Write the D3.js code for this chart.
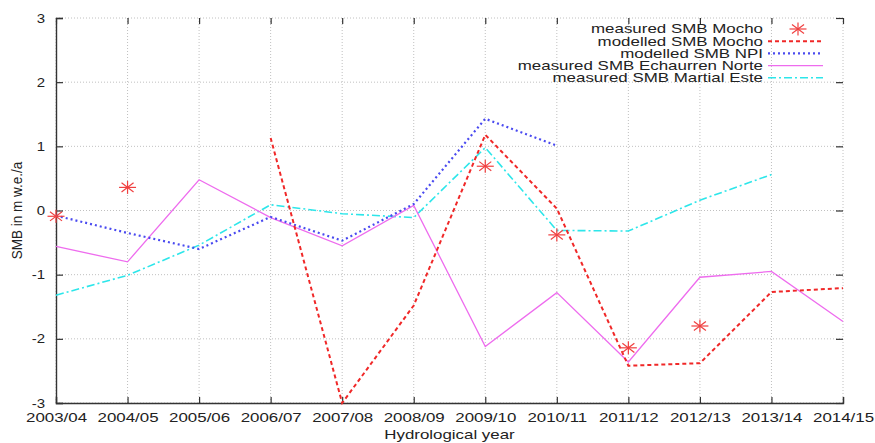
<!DOCTYPE html>
<html>
<head>
<meta charset="utf-8">
<script src="https://cdn.jsdelivr.net/npm/d3@7"></script>
<style>
  body { margin: 0; background: #fff; }
  text { font-family: "Liberation Sans", Arial, sans-serif; fill: #222; }
</style>
</head>
<body>
<div class="chart"></div>
<script>
// hydrological years (x categories)
const years = ["2003/04","2004/05","2005/06","2006/07","2007/08","2008/09",
               "2009/10","2010/11","2011/12","2012/13","2013/14","2014/15"];
const yTicks = [-3, -2, -1, 0, 1, 2, 3];

// series values, null = no value
const measuredMocho = [-0.09, 0.36, null, null, null, null, 0.69, -0.38, -2.14, -1.8, null, null];
const modelledMocho = [null, null, null, 1.13, -3.0, -1.48, 1.18, 0.03, -2.42, -2.38, -1.27, -1.21];
const modelledNPI   = [-0.08, -0.35, -0.6, -0.1, -0.47, 0.1, 1.43, 1.01, null, null, null, null];
const echaurren     = [-0.56, -0.8, 0.48, -0.11, -0.55, 0.08, -2.12, -1.28, -2.36, -1.04, -0.95, -1.73];
const martialEste   = [-1.32, -1.01, -0.54, 0.09, -0.05, -0.11, 0.98, -0.31, -0.32, 0.16, 0.56, null];

const showChart = () => {
  const width = 875, height = 443;
  const margin = { left: 56, right: 32, top: 18, bottom: 40 };
  const sx = 1.3; // text is drawn wide in the original

  const svg = d3.select(".chart").append("svg")
    .attr("width", width).attr("height", height);

  const x = d3.scalePoint().domain(years).range([margin.left, width - margin.right]);
  const y = d3.scaleLinear().domain([-3, 3]).range([height - margin.bottom, margin.top]);

  // grid
  const grid = svg.append("g");
  grid.selectAll(".gx").data(years).enter().append("line")
    .attr("x1", d => x(d)).attr("x2", d => x(d))
    .attr("y1", y(-3)).attr("y2", y(3))
    .attr("stroke", "#b0b0b0").attr("stroke-width", 0.8).attr("stroke-dasharray", "1,2");
  grid.selectAll(".gy").data(yTicks).enter().append("line")
    .attr("x1", x.range()[0]).attr("x2", x.range()[1])
    .attr("y1", d => y(d)).attr("y2", d => y(d))
    .attr("stroke", "#b0b0b0").attr("stroke-width", 0.8).attr("stroke-dasharray", "1,2");

  // axes, ticks pointing inward like gnuplot
  svg.append("g").attr("transform", `translate(0,${y(-3)})`)
    .call(d3.axisBottom(x).tickSize(-6).tickPadding(10))
    .call(g => g.selectAll("text").attr("font-size", 13).attr("fill", "#222")
      .attr("transform", `scale(${sx},1)`))
    .call(g => g.select(".domain").attr("stroke", "#333").attr("stroke-width", 1.4));
  svg.append("g").attr("transform", `translate(${x.range()[0]},0)`)
    .call(d3.axisLeft(y).tickValues(yTicks).tickFormat(d => String(d)).tickSize(-7))
    .call(g => g.selectAll("text").attr("font-size", 12.5).attr("fill", "#222")
      .attr("x", -11 / 1.2).attr("transform", "scale(1.2,1)"))
    .call(g => g.select(".domain").attr("stroke", "#333").attr("stroke-width", 1.4));
  // mirror ticks top / right
  svg.append("g").attr("transform", `translate(0,${y(3)})`)
    .call(d3.axisTop(x).tickSize(-6).tickFormat(""))
    .call(g => g.select(".domain").remove());
  svg.append("g").attr("transform", `translate(${x.range()[1]},0)`)
    .call(d3.axisRight(y).tickValues(yTicks).tickSize(-7).tickFormat(""))
    .call(g => g.select(".domain").remove());
  svg.selectAll(".tick line").attr("stroke", "#333").attr("stroke-width", 1.2);

  // axis titles
  svg.append("text")
    .attr("transform", `translate(${(x.range()[0] + x.range()[1]) / 2},439) scale(${sx},1)`)
    .attr("text-anchor", "middle").attr("font-size", 13).text("Hydrological year");
  svg.append("text").attr("transform", `translate(22,${y(0)}) rotate(-90) scale(1,1.15)`)
    .attr("text-anchor", "middle").attr("font-size", 13.5).text("SMB in m w.e./a");

  const series = [
    { name: "modelled SMB Mocho", values: modelledMocho, color: "#f02828", w: 2, dash: "4,3" },
    { name: "modelled SMB NPI", values: modelledNPI, color: "#4a4af0", w: 2.2, dash: "2,3" },
    { name: "measured SMB Echaurren Norte", values: echaurren, color: "#ee6cee", w: 1.3, dash: null },
    { name: "measured SMB Martial Este", values: martialEste, color: "#2de6ea", w: 1.6, dash: "8,3,2,3" }
  ];

  const line = d3.line()
    .defined(d => d != null)
    .x((d, i) => x(years[i]))
    .y(d => y(d));

  // draw in reverse so red is on top
  series.slice().reverse().forEach(s => {
    svg.append("path").datum(s.values)
      .attr("d", line)
      .attr("fill", "none")
      .attr("stroke", s.color)
      .attr("stroke-width", s.w)
      .attr("stroke-dasharray", s.dash);
  });

  // star markers (wider than tall, as in the original)
  const star = (g, cx, cy) => {
    const rx = 8.5, ry = 6.5;
    for (let k = 0; k < 4; k++) {
      const a = k * Math.PI / 4;
      g.append("line")
        .attr("x1", cx - rx * Math.cos(a)).attr("y1", cy - ry * Math.sin(a))
        .attr("x2", cx + rx * Math.cos(a)).attr("y2", cy + ry * Math.sin(a))
        .attr("stroke", "#f04040").attr("stroke-width", 1.2);
    }
  };
  const stars = svg.append("g");
  measuredMocho.forEach((v, i) => {
    if (v != null) star(stars, x(years[i]), y(v));
  });

  // legend
  const legend = svg.append("g");
  const lx = 763, ly = 29, row = 12.2;
  const labels = ["measured SMB Mocho"].concat(series.map(s => s.name));
  labels.forEach((t, i) => {
    legend.append("text")
      .attr("transform", `translate(${lx},${ly + i * row + 4.3}) scale(1.41,1)`)
      .attr("text-anchor", "end").attr("font-size", 12).text(t);
  });
  star(legend, 798, ly);
  series.forEach((s, i) => {
    legend.append("line")
      .attr("x1", 768).attr("x2", 823)
      .attr("y1", ly + (i + 1) * row).attr("y2", ly + (i + 1) * row)
      .attr("stroke", s.color).attr("stroke-width", s.w)
      .attr("stroke-dasharray", s.dash);
  });
};

showChart();
</script>
</body>
</html>
